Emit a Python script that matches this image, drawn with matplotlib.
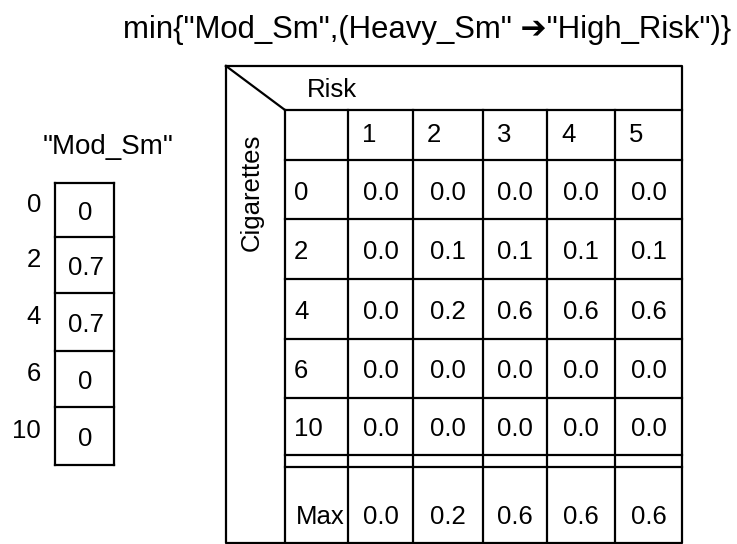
import matplotlib.pyplot as plt

plt.rcParams['font.family'] = ['Liberation Sans', 'DejaVu Sans']

# data
risk_levels = ["1", "2", "3", "4", "5"]
cigarettes = ["0", "2", "4", "6", "10"]
mod_sm = ["0", "0.7", "0.7", "0", "0"]
values = [
    [0.0, 0.0, 0.0, 0.0, 0.0],
    [0.0, 0.1, 0.1, 0.1, 0.1],
    [0.0, 0.2, 0.6, 0.6, 0.6],
    [0.0, 0.0, 0.0, 0.0, 0.0],
    [0.0, 0.0, 0.0, 0.0, 0.0],
]
max_row = [max(col) for col in zip(*values)]

fig = plt.figure(figsize=(7.37, 5.44), dpi=100)
ax = fig.add_axes([0, 0, 1, 1])
ax.set_xlim(0, 737)
ax.set_ylim(544, 0)
ax.axis('off')

lw = 1.6
kw = dict(color='black', lw=lw, solid_capstyle='projecting')
fs = 18.5

# title
ax.text(427, 30, 'min{"Mod_Sm",(Heavy_Sm" \u2794"High_Risk")}',
        fontsize=22.4, ha='center', va='center')

# ---- left table: "Mod_Sm"
ax.text(108, 147, '"Mod_Sm"', fontsize=20, ha='center', va='center')
lx0, lx1 = 55, 114
ly = [183, 237, 293, 351, 407, 465]
ax.plot([lx0, lx0], [ly[0], ly[-1]], **kw)
ax.plot([lx1, lx1], [ly[0], ly[-1]], **kw)
for y in ly:
    ax.plot([lx0, lx1], [y, y], **kw)
for i, (c, v) in enumerate(zip(cigarettes, mod_sm)):
    yc = (ly[i] + ly[i + 1]) / 2
    ax.text(41, yc - 5, c, fontsize=fs, ha='right', va='center')
    ax.text((lx0 + lx1) / 2 + 1, yc + 3, v, fontsize=fs, ha='center', va='center')

# ---- main table
ox0, oy0, ox1, oy1 = 226, 66, 682, 543
ix0, iy0 = 285, 110
cols = [ix0, 348, 413, 483, 547, 615, ox1]
rows = [iy0, 160, 219, 279, 339, 398, 455]
max_top = 467

ax.plot([ox0, ox1, ox1, ox0, ox0], [oy0, oy0, oy1, oy1, oy0], **kw)
ax.plot([ox0, ix0], [oy0, iy0], **kw)
ax.plot([ix0, ix0], [iy0, oy1], **kw)
for y in rows + [max_top]:
    ax.plot([ix0, ox1], [y, y], **kw)
for x in cols[1:-1]:
    ax.plot([x, x], [iy0, oy1], **kw)

ax.text(307, 90, 'Risk', fontsize=fs, ha='left', va='center')
ax.text(252, 192, 'Cigarettes', fontsize=fs, ha='center', va='center', rotation=90)

for j, r in enumerate(risk_levels):
    ax.text(cols[j + 1] + 14, (rows[0] + rows[1]) / 2, r,
            fontsize=fs, ha='left', va='center')

for i, c in enumerate(cigarettes):
    yc = (rows[i + 1] + rows[i + 2]) / 2 + 3
    ax.text(ix0 + 9, yc, c, fontsize=fs, ha='left', va='center')
    for j, v in enumerate(values[i]):
        ax.text((cols[j + 1] + cols[j + 2]) / 2, yc, f"{v:.1f}",
                fontsize=fs, ha='center', va='center')

ym = 517
ax.text(ix0 + 11, ym, 'Max', fontsize=fs, ha='left', va='center')
for j, v in enumerate(max_row):
    ax.text((cols[j + 1] + cols[j + 2]) / 2, ym, f"{v:.1f}",
            fontsize=fs, ha='center', va='center')

fig.savefig('out.png', dpi=100)
